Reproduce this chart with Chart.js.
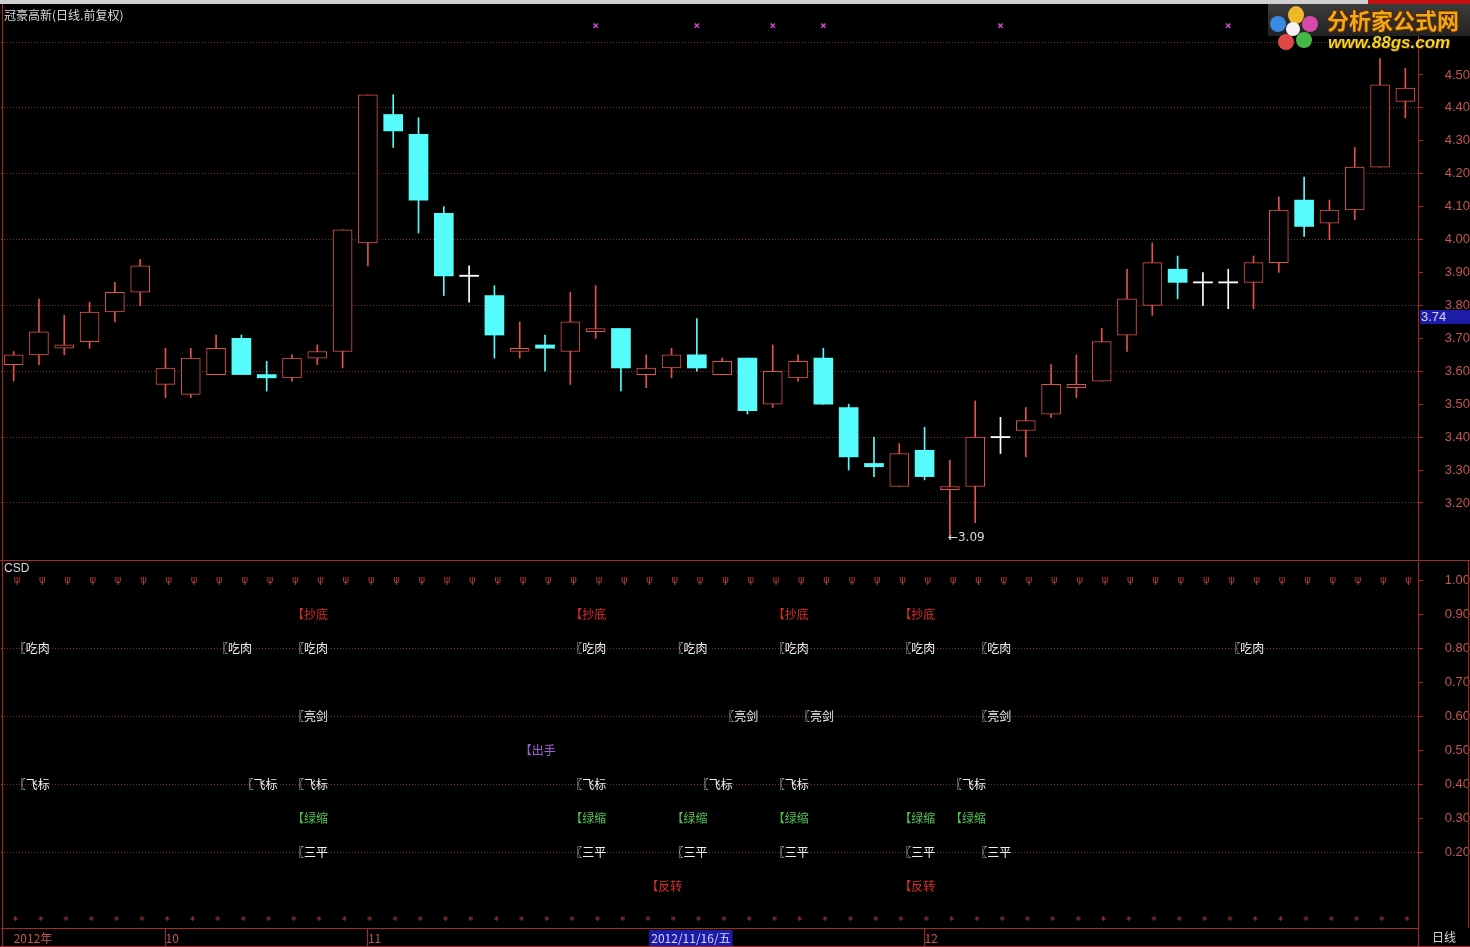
<!DOCTYPE html>
<html>
<head>
<meta charset="utf-8">
<script src="https://cdn.jsdelivr.net/npm/chart.js@4.4.1/dist/chart.umd.min.js"></script>
<style>
html,body{margin:0;padding:0;background:#000;}
body{width:1470px;height:947px;position:relative;overflow:hidden;}
canvas{position:absolute;left:0;}
#cTop{top:0;}
#cBot{top:561px;}
.ln{position:absolute;background:#a82828;}
.txt{position:absolute;white-space:nowrap;}
</style>
</head>
<body>
<canvas id="cTop" width="1470" height="561"></canvas>
<canvas id="cBot" width="1470" height="386"></canvas>

<div style="position:absolute;left:0;top:0;width:1470px;height:4px;background:#cfcfcf;"></div>
<div style="position:absolute;left:1368px;top:0;width:102px;height:4px;background:#c01010;"></div>
<div class="ln" style="left:2px;top:4px;width:1px;height:943px;"></div>
<div class="ln" style="left:0;top:560px;width:1470px;height:1px;"></div>
<div class="ln" style="left:1468px;top:560px;width:1px;height:368px;"></div>
<div class="ln" style="left:1418px;top:928px;width:1px;height:19px;"></div>
<div class="ln" style="left:0;top:946px;width:1470px;height:1px;"></div>

<div class="txt" style="left:4px;top:7px;font:12px/16px 'Noto Sans CJK SC';color:#d8d8d8;">冠豪高新(日线.前复权)</div>
<div class="txt" style="left:4px;top:561px;font:12px/14px 'Liberation Sans';color:#d8d8d8;">CSD</div>
<div class="txt" style="left:1432px;top:929px;font:12px/16px 'Noto Sans CJK SC';color:#d8d8d8;">日线</div>

<div id="logo" style="position:absolute;left:1268px;top:4px;width:202px;height:48px;">
  <div style="position:absolute;left:0;top:0;width:202px;height:32px;background:linear-gradient(#3c3c3c,#222);"></div>
  <div style="position:absolute;left:20px;top:2px;width:16px;height:18px;border-radius:50%;background:#f0b828;"></div>
  <div style="position:absolute;left:34px;top:12px;width:16px;height:16px;border-radius:50%;background:#d84aa8;"></div>
  <div style="position:absolute;left:28px;top:28px;width:16px;height:16px;border-radius:50%;background:#48b848;"></div>
  <div style="position:absolute;left:10px;top:30px;width:16px;height:16px;border-radius:50%;background:#e04848;"></div>
  <div style="position:absolute;left:2px;top:12px;width:16px;height:16px;border-radius:50%;background:#3a8ae0;"></div>
  <div style="position:absolute;left:18px;top:18px;width:14px;height:14px;border-radius:50%;background:#f4f4f4;"></div>
  <div style="position:absolute;left:59px;top:2px;font:bold 22px/26px 'Noto Sans CJK SC';color:#f0a818;letter-spacing:0px;text-shadow:1px 1px 0 #5a2a00,-1px -1px 0 #5a2a00,1px -1px 0 #5a2a00,-1px 1px 0 #5a2a00;white-space:nowrap;">分析家公式网</div>
  <div style="position:absolute;left:60px;top:30px;font:italic bold 17px/18px 'Liberation Sans';color:#f0d428;text-shadow:1px 1px 0 #402000;white-space:nowrap;">www.88gs.com</div>
</div>

<script>
// ---------------- data ----------------
const dates = ['09-21','09-24','09-25','09-26','09-27','09-28',
  '10-22','10-23','10-24','10-25','10-26','10-29','10-30','10-31',
  '11-01','11-02','11-05','11-06','11-07','11-08','11-09','11-12','11-13','11-14','11-15','11-16',
  '11-19','11-20','11-21','11-22','11-23','11-26','11-27','11-28','11-29','11-30',
  '12-03','12-04','12-05','12-06','12-07','12-10','12-11','12-12','12-13','12-14',
  '12-17','12-18','12-19','12-20','12-21','12-24','12-25','12-26','12-27','12-28'];

const openP  = [3.62,3.65,3.67,3.69,3.78,3.84, 3.56,3.53,3.59,3.70,3.59,3.58,3.64,3.66,
  3.99,4.38,4.32,4.08,3.89,3.83,3.66,3.68,3.66,3.72,3.73,3.59,3.61,3.65,3.59,3.64,3.50,3.58,3.64,3.49,3.32,3.25,
  3.36,3.24,3.25,3.40,3.42,3.47,3.55,3.57,3.71,3.80,3.91,3.87,3.87,3.87,3.93,4.12,4.05,4.09,4.22,4.42];
const highP  = [3.66,3.82,3.77,3.81,3.87,3.94, 3.67,3.67,3.71,3.71,3.63,3.65,3.68,4.03,
  4.44,4.44,4.37,4.10,3.92,3.86,3.75,3.71,3.84,3.86,3.73,3.65,3.67,3.76,3.64,3.64,3.68,3.65,3.67,3.50,3.40,3.38,
  3.43,3.33,3.51,3.46,3.49,3.62,3.65,3.73,3.91,3.99,3.95,3.90,3.91,3.95,4.13,4.19,4.12,4.28,4.55,4.52];
const lowP   = [3.57,3.62,3.65,3.67,3.75,3.80, 3.52,3.52,3.59,3.59,3.54,3.57,3.62,3.61,
  3.92,4.28,4.02,3.83,3.81,3.64,3.64,3.60,3.56,3.70,3.54,3.55,3.58,3.60,3.59,3.47,3.49,3.57,3.50,3.30,3.28,3.25,
  3.27,3.09,3.14,3.35,3.34,3.46,3.52,3.57,3.66,3.77,3.82,3.80,3.79,3.79,3.90,4.01,4.00,4.06,4.22,4.37];
const closeP = [3.65,3.72,3.68,3.78,3.84,3.92, 3.61,3.64,3.67,3.59,3.58,3.64,3.66,4.03,
  4.44,4.33,4.12,3.89,3.89,3.71,3.67,3.67,3.75,3.73,3.61,3.61,3.65,3.61,3.63,3.48,3.60,3.63,3.50,3.34,3.31,3.35,
  3.28,3.25,3.40,3.40,3.45,3.56,3.56,3.69,3.82,3.93,3.87,3.87,3.87,3.93,4.09,4.04,4.09,4.22,4.47,4.46];

const priceTicks  = [3.2,3.3,3.4,3.5,3.6,3.7,3.8,3.9,4.0,4.1,4.2,4.3,4.4,4.5,4.6];
const signalTicks = [0.2,0.3,0.4,0.5,0.6,0.7,0.8,0.9,1.0];

const crossIdx   = [23,27,30,32,39,48];
const crossLevel = 4.65;

const lowMarkIdx = 37, lowMarkPrice = 3.09, lowMarkText = '←3.09';
const cursorPrice = 3.765, cursorText = '3.74';
const cursorDateIdx = 25, cursorDateText = '2012/11/16/五';

const xTickIdx  = [0, 6, 14, 36];
const xTickText = ['2012年', '10', '11', '12'];

// signal rows (CSD indicator)
const sigChaoDi = [11,22,30,35];            // 【抄底 0.9
const sigChiRou = [0,8,11,22,26,30,35,38,48]; // 〖吃肉 0.8
const sigLiangJian = [11,28,31,38];         // 〖亮剑 0.6
const sigChuShou = [20];                    // 【出手 0.5
const sigFeiBiao = [0,9,11,22,27,30,37];    // 〖飞标 0.4
const sigLvSuo = [11,22,26,30,35,37];       // 【绿缩 0.3
const sigSanPing = [11,22,26,30,35,38];     // 〖三平 0.2
const sigFanZhuan = [25,35];                // 【反转 0.1
const signalLevels = {chaodi:0.9, chirou:0.8, liangjian:0.6, chushou:0.5, feibiao:0.4, lvsuo:0.3, sanping:0.2, fanzhuan:0.1};
const topRowLevel = 1.0, bottomRowLevel = 0.0;

// ---------------- styles ----------------
const UP = '#e2524c', DOWN = '#56fbfb', FLAT = '#ffffff';
const AXIS_TXT = '#c25454', BORDER = '#a82828', GRIDC = '#7e2c2c';

const dir = i => closeP[i] > openP[i] ? 1 : (closeP[i] < openP[i] ? -1 : 0);
const lineColor = dates.map((d,i) => dir(i) > 0 ? UP : dir(i) < 0 ? DOWN : FLAT);
const fillColor = dates.map((d,i) => dir(i) > 0 ? '#000000' : dir(i) < 0 ? DOWN : FLAT);

const bodyData = dates.map((d,i) => ({x:i, y: dir(i)===0 ? [openP[i]-0.0018, openP[i]+0.0018] : [openP[i], closeP[i]]}));
const wickData = dates.map((d,i) => ({x:i, y:[lowP[i], highP[i]]}));
const crossData = crossIdx.map(i => ({x:i, y:crossLevel}));

const isEvenFifth = v => Math.abs(Math.round(v*10)) % 2 === 0;
const noPadY = s => { s.width = 52; s.paddingTop = 0; s.paddingBottom = 0; };

const topPlugin = {
  id:'topMarks',
  afterDraw(chart){
    const ctx = chart.ctx, xs = chart.scales.x, ys = chart.scales.y;
    ctx.save();
    ctx.font = '12px "DejaVu Sans"';
    ctx.fillStyle = '#d8d8d8';
    ctx.textBaseline = 'middle';
    ctx.textAlign = 'left';
    ctx.fillText(lowMarkText, xs.getPixelForValue(lowMarkIdx) - 2, ys.getPixelForValue(lowMarkPrice) - 1);
    const cy = ys.getPixelForValue(cursorPrice);
    const ax = chart.chartArea.right + 2;
    ctx.fillStyle = '#1c1ca6';
    ctx.fillRect(ax, Math.round(cy) - 7, 1470 - ax, 14);
    ctx.fillStyle = '#d4d4ff';
    ctx.font = '13px "Liberation Sans"';
    ctx.fillText(cursorText, ax + 1, cy);
    ctx.restore();
  }
};

new Chart(document.getElementById('cTop'), {
  type:'bar',
  data:{
    datasets:[
      {type:'bar', data:bodyData, backgroundColor:fillColor, borderColor:lineColor,
       borderWidth: dates.map((d,i)=> dir(i)>0 ? 1 : 0), borderSkipped:false,
       barThickness:19, grouped:false, order:0},
      {type:'bar', data:wickData, backgroundColor:lineColor, borderWidth:0,
       barThickness:1, grouped:false, order:1},
      {type:'scatter', data:crossData, pointStyle:'crossRot', pointRadius:3,
       borderColor:'#d040d0', backgroundColor:'#d040d0', borderWidth:1.6, order:-1}
    ]
  },
  options:{
    responsive:false, animation:false, events:[], devicePixelRatio:1,
    layout:{autoPadding:false, padding:{left:1, top:5, right:0, bottom:1}},
    plugins:{legend:{display:false}, tooltip:{enabled:false}},
    scales:{
      x:{type:'linear', min:-0.5, max:55.5, offset:false, display:false},
      y:{type:'linear', position:'right', min:3.0267, max:4.7126,
         afterBuildTicks: s => { s.ticks = priceTicks.map(v => ({value:v})); },
         afterFit: noPadY,
         ticks:{color:AXIS_TXT, font:{family:'Liberation Sans', size:13}, crossAlign:'far', padding:2,
                callback: v => v > 4.55 ? '' : Number(v).toFixed(2)},
         grid:{color: c => (c.tick && isEvenFifth(c.tick.value)) ? GRIDC : 'rgba(0,0,0,0)',
               lineWidth:1, drawTicks:true, tickLength:5, tickColor:BORDER},
         border:{display:true, color:BORDER, width:1, dash:[1,2]}
      }
    }
  },
  plugins:[topPlugin]
});

// ---------------- lower panel ----------------
function sigSet(txt, idx, level, color){
  return {type:'scatter', data: idx.map(i => ({x:i, y:level})), pointRadius:0,
          txt: txt, txtColor: color, font:'12px "Noto Sans CJK SC"', dx:0};
}
const allIdx = dates.map((d,i) => i);
const lowerSets = [
  {type:'scatter', data: allIdx.map(i => ({x:i, y:topRowLevel})), pointRadius:0, txt:'ψ', txtColor:'#b83a3a', font:'10px "DejaVu Sans"', dx:0},
  {type:'scatter', data: allIdx.map(i => ({x:i, y:bottomRowLevel})), pointRadius:0, txt:'*', txtColor:'#b83a3a', font:'11px "DejaVu Sans"', dx:-1},
  sigSet('【抄底', sigChaoDi, signalLevels.chaodi, '#e02a2a'),
  sigSet('〖吃肉', sigChiRou, signalLevels.chirou, '#f2f2f2'),
  sigSet('〖亮剑', sigLiangJian, signalLevels.liangjian, '#ececec'),
  sigSet('【出手', sigChuShou, signalLevels.chushou, '#9a5ad0'),
  sigSet('〖飞标', sigFeiBiao, signalLevels.feibiao, '#f2f2f2'),
  sigSet('【绿缩', sigLvSuo, signalLevels.lvsuo, '#4fc04f'),
  sigSet('〖三平', sigSanPing, signalLevels.sanping, '#eaf4ea'),
  sigSet('【反转', sigFanZhuan, signalLevels.fanzhuan, '#e02a2a')
];

const textPlugin = {
  id:'textMarks',
  afterDatasetsDraw(chart){
    const ctx = chart.ctx;
    chart.data.datasets.forEach((ds, k) => {
      if (!ds.txt) return;
      const meta = chart.getDatasetMeta(k);
      ctx.save();
      ctx.font = ds.font;
      ctx.fillStyle = ds.txtColor;
      ctx.textBaseline = 'middle';
      ctx.textAlign = 'left';
      meta.data.forEach(el => ctx.fillText(ds.txt, el.x + ds.dx, el.y));
      ctx.restore();
    });
  },
  afterDraw(chart){
    const ctx = chart.ctx, xs = chart.scales.x;
    const x0 = xs.getPixelForValue(cursorDateIdx) + 3;
    const y0 = chart.chartArea.bottom + 2;
    ctx.save();
    ctx.font = '12px "Noto Sans CJK SC"';
    const w = ctx.measureText(cursorDateText).width + 4;
    ctx.fillStyle = '#1c1ca6';
    ctx.fillRect(x0, y0, w, 16);
    ctx.fillStyle = '#d4d4ff';
    ctx.textBaseline = 'middle';
    ctx.fillText(cursorDateText, x0 + 2, y0 + 8);
    ctx.restore();
  }
};

new Chart(document.getElementById('cBot'), {
  type:'scatter',
  data:{datasets: lowerSets},
  options:{
    responsive:false, animation:false, events:[], devicePixelRatio:1,
    layout:{autoPadding:false, padding:{left:1, top:1, right:0, bottom:0}},
    plugins:{legend:{display:false}, tooltip:{enabled:false}},
    scales:{
      x:{type:'linear', min:-0.5, max:55.5, offset:false, position:'bottom',
         afterBuildTicks: s => { s.ticks = xTickIdx.map(v => ({value:v})); },
         afterFit: s => { s.height = 19; s.paddingLeft = 0; s.paddingRight = 0; },
         ticks:{autoSkip:false, maxRotation:0, minRotation:0, align:'start', padding:-16, color:AXIS_TXT,
                font:{family:'Noto Sans CJK SC', size:12},
                callback: (v, i) => xTickText[i]},
         grid:{drawOnChartArea:false, drawTicks:true, tickLength:19,
               tickColor: c => (c.index === 0 ? 'rgba(0,0,0,0)' : BORDER)},
         border:{display:true, color:BORDER, width:1}
      },
      y:{type:'linear', position:'right', min:-0.0215, max:1.055,
         afterBuildTicks: s => { s.ticks = signalTicks.map(v => ({value:v})); },
         afterFit: noPadY,
         ticks:{color:AXIS_TXT, font:{family:'Liberation Sans', size:13}, crossAlign:'far', padding:2,
                callback: v => Number(v).toFixed(2)},
         grid:{color: c => (c.tick && isEvenFifth(c.tick.value) && c.tick.value < 0.95) ? GRIDC : 'rgba(0,0,0,0)',
               lineWidth:1, drawTicks:true, tickLength:5, tickColor:BORDER},
         border:{display:true, color:BORDER, width:1, dash:[1,2]}
      }
    }
  },
  plugins:[textPlugin]
});
</script>
</body>
</html>
